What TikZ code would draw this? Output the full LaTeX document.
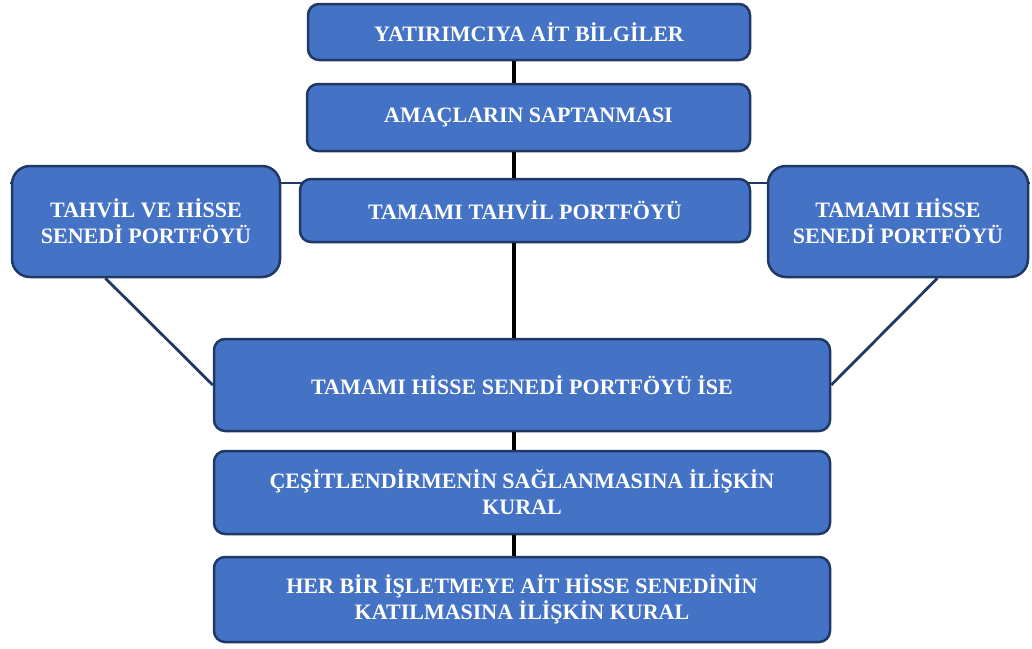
\documentclass[tikz,border=0pt]{standalone}
\usepackage{fontspec}
\setmainfont{Liberation Serif}
\usepackage{tikz}
\usetikzlibrary{calc, positioning, backgrounds}
\usepackage{xcolor}
\definecolor{boxblue}{RGB}{68,114,196}
\definecolor{boxnavy}{RGB}{32,56,100}
\tikzset{
    flowbox/.style={draw=boxnavy, line width=2.5pt, rounded corners=11pt, fill=boxblue, text=white, align=center, inner sep=0pt, font=\fontsize{22}{26}\selectfont\bfseries},
    sidebox/.style={flowbox, rounded corners=18pt},
    spineline/.style={line width=4.5pt, draw=black},
    linkline/.style={line width=2.8pt, draw=boxnavy}
}
\begin{document}
\begin{tikzpicture}[x=1pt,y=-1pt]
            \useasboundingbox (0,0) rectangle (1032,648);
            \coordinate (spine) at (514,0);
            \coordinate (hl) at (10,183);
            \coordinate (hr) at (1030,183);
            \node[flowbox, minimum width=442pt, minimum height=56pt] (yat) at (529,32) {YATIRIMCIYA AİT BİLGİLER};
            \node[flowbox, minimum width=443pt, minimum height=67pt] (ama) at (528.5,117.5) {AMAÇLARIN SAPTANMASI};
            \node[flowbox, minimum width=450pt, minimum height=63pt] (tah) at (525,210.5) {TAMAMI TAHVİL PORTFÖYÜ};
            \node[sidebox, minimum width=268pt, minimum height=111pt] (lft) at (146,221.5) {TAHVİL VE HİSSE\\SENEDİ PORTFÖYÜ};
            \node[sidebox, minimum width=260pt, minimum height=111pt] (rgt) at (898,221.5) {TAMAMI HİSSE\\SENEDİ PORTFÖYÜ};
            \node[flowbox, minimum width=616pt, minimum height=92pt] (his) at (522,385) {TAMAMI HİSSE SENEDİ PORTFÖYÜ İSE};
            \node[flowbox, minimum width=616pt, minimum height=83pt] (ces) at (522,492.5) {ÇEŞİTLENDİRMENİN SAĞLANMASINA İLİŞKİN\\KURAL};
            \node[flowbox, minimum width=616pt, minimum height=85pt] (her) at (522,599.5) {HER BİR İŞLETMEYE AİT HİSSE SENEDİNİN\\KATILMASINA İLİŞKİN KURAL};
            \begin{scope}[on background layer]
                \draw[linkline] (hl)--(hr);
            \end{scope}
            \draw[spineline] (yat.south -| spine)--(ama.north -| spine);
            \draw[spineline] (ama.south -| spine)--(tah.north -| spine);
            \draw[spineline] (tah.south -| spine)--(his.north -| spine);
            \draw[spineline] (his.south -| spine)--(ces.north -| spine);
            \draw[spineline] (ces.south -| spine)--(her.north -| spine);
            \draw[linkline] ($(lft.south west)!0.35!(lft.south east)$)--(his.west);
            \draw[linkline] ($(rgt.south west)!0.65!(rgt.south east)$)--(his.east);
        \end{tikzpicture}
\end{document}
